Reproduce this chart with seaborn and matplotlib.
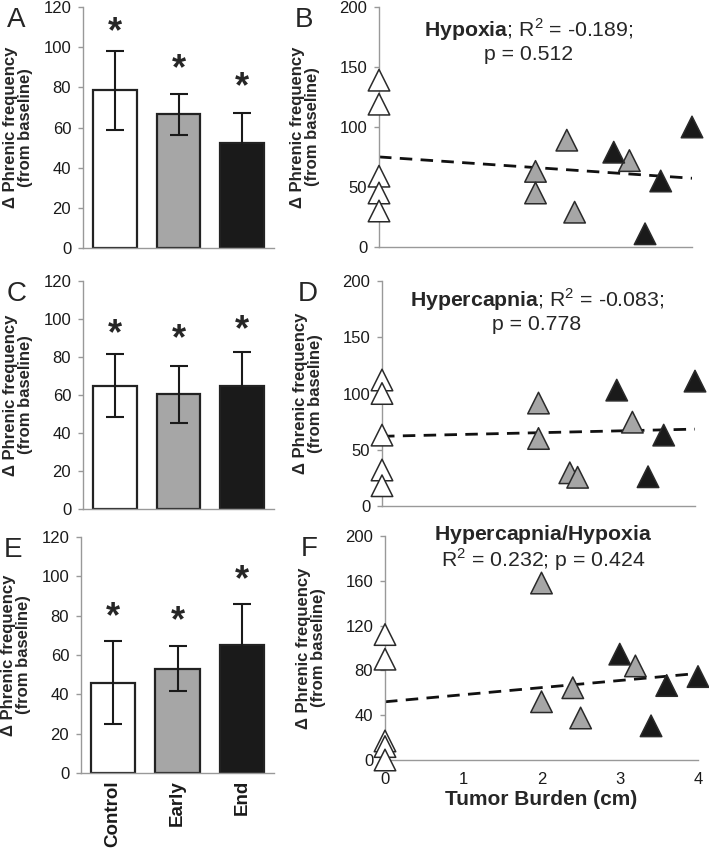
import numpy as np
import pandas as pd
import seaborn as sns
import matplotlib.pyplot as plt

# ---- data ----
groups = ["Control", "Early", "End"]

# bar panels: mean and SEM (delta phrenic frequency)
hypoxia_mean = [78.5, 66.5, 52.5]
hypoxia_sem = [19.5, 10.2, 14.5]
hypercap_mean = [65.0, 60.3, 64.5]
hypercap_sem = [16.5, 14.8, 18.0]
combo_mean = [46.0, 53.0, 65.0]
combo_sem = [21.0, 11.5, 21.0]

# significance asterisk heights
hypoxia_star = [107, 89, 80]
hypercap_star = [92, 89, 94]
combo_star = [79, 77, 98]

# scatter panels: tumor burden (cm)
ctrl_burden = [0, 0, 0, 0, 0]
early_burden = [2.0, 2.0, 2.4, 2.5, 3.2]
end_burden = [3.0, 3.4, 3.6, 4.0]

hypoxia_ctrl = [139, 119, 59, 45, 30]
hypoxia_early = [63, 45, 89, 29, 72]
hypoxia_end = [79, 11, 55, 100]

hypercap_ctrl = [112, 100, 63, 32, 18]
hypercap_early = [91.5, 60, 29.5, 25.5, 74.5]
hypercap_end = [103, 26, 63, 111]

combo_ctrl = [112, 90, 17, 12, 0]
combo_early = [158, 52, 64.5, 37.5, 84]
combo_end = [94.5, 30.5, 66.5, 74.5]

colors = {"Control": "white", "Early": "#a6a6a6", "End": "#1a1a1a"}

sns.set_style("white")
plt.rcParams['font.family'] = ['Liberation Sans', 'DejaVu Sans']
plt.rcParams['mathtext.fontset'] = 'custom'
plt.rcParams['mathtext.rm'] = 'Liberation Sans'
plt.rcParams['mathtext.bf'] = 'Liberation Sans:bold'

W, H = 709, 848
fig = plt.figure(figsize=(W / 100, H / 100), dpi=100)


def axes_px(x0, x1, ytop, ybot):
    return fig.add_axes([x0 / W, 1 - ybot / H, (x1 - x0) / W, (ybot - ytop) / H])


def style_axes(ax):
    for s in ["top", "right"]:
        ax.spines[s].set_visible(False)
    for s in ["left", "bottom"]:
        ax.spines[s].set_color("#999999")
        ax.spines[s].set_linewidth(1.0)
    ax.tick_params(axis="both", which="both", direction="out", color="#999999",
                   length=3.5, width=1, labelsize=12, labelcolor="#1a1a1a", pad=5)
    ax.tick_params(axis="y", left=True)


ylab = "Δ Phrenic frequency\n(from baseline)"


def bar_panel(ax, means, sems, stars, letter, show_x):
    df = pd.DataFrame({"group": groups, "value": means})
    sns.barplot(data=df, x="group", y="value", hue="group", palette=colors,
                edgecolor="#222222", linewidth=1.6, width=0.69, errorbar=None,
                legend=False, ax=ax)
    ax.errorbar(range(3), means, yerr=sems, fmt="none", ecolor="#1a1a1a",
                elinewidth=1.5, capsize=6.5, capthick=1.5)
    for i, s in enumerate(stars):
        ax.text(i, s, "*", ha="center", va="center", fontsize=26, fontweight="bold")
    ax.set_xlim(-0.5, 2.5)
    ax.set_ylim(0, 120)
    ax.set_yticks(range(0, 121, 20))
    style_axes(ax)
    ax.set_xticks([-0.5, 0.5, 1.5, 2.5], minor=True)
    ax.tick_params(axis="x", which="major", length=0)
    ax.set_xlabel("")
    if show_x:
        ax.set_xticks(range(3))
        ax.set_xticklabels(groups, rotation=90, fontsize=13.5, fontweight="bold")
    else:
        ax.set_xticklabels([])
    ax.set_ylabel(ylab, fontsize=12, fontweight="bold", linespacing=1.0)
    ax.yaxis.set_label_coords(-0.26, 0.5)
    ax.text(-0.4, 1.0, letter, transform=ax.transAxes, fontsize=20,
            ha="left", va="top")


def scatter_panel(ax, ctrl, early, end, ymax, ystep, title, tpos, tspace, letter, show_x):
    df = pd.DataFrame({
        "burden": ctrl_burden + early_burden + end_burden,
        "freq": ctrl + early + end,
        "group": ["Control"] * len(ctrl) + ["Early"] * len(early) + ["End"] * len(end),
    })
    sns.regplot(data=df, x="burden", y="freq", scatter=False, ci=None, ax=ax,
                line_kws=dict(color="#111111", lw=2.0, ls=(0, (4.5, 3))))
    sns.scatterplot(data=df, x="burden", y="freq", hue="group", palette=colors,
                    marker="^", s=240, edgecolor="#2a2a2a", linewidth=1.1,
                    legend=False, clip_on=False, zorder=3, ax=ax)
    ax.set_xlim(0, 4)
    ax.set_ylim(0, ymax)
    ax.set_xticks(range(5))
    ax.set_yticks(np.arange(0, ymax + 1, ystep))
    style_axes(ax)
    ax.set_ylabel(ylab, fontsize=12, fontweight="bold", linespacing=1.0)
    ax.yaxis.set_label_coords(-0.19, 0.5)
    if show_x:
        ax.set_xlabel("Tumor Burden (cm)", fontsize=15, fontweight="bold", labelpad=2)
    else:
        ax.set_xticklabels([])
        ax.set_xlabel("")
    ax.text(tpos[0], tpos[1], title, transform=ax.transAxes, ha="center", va="center",
            fontsize=15.3, linespacing=tspace)
    ax.text(-0.27, 1.0, letter, transform=ax.transAxes, fontsize=20,
            ha="left", va="top")


axA = axes_px(83, 274, 7, 248)
axC = axes_px(83, 274, 281, 509)
axE = axes_px(81, 274, 537, 773)
axB = axes_px(379, 692, 7, 247)
axD = axes_px(382, 695, 281, 506)
axF = axes_px(385, 698, 536, 760)

bar_panel(axA, hypoxia_mean, hypoxia_sem, hypoxia_star, "A", False)
bar_panel(axC, hypercap_mean, hypercap_sem, hypercap_star, "C", False)
bar_panel(axE, combo_mean, combo_sem, combo_star, "E", True)

scatter_panel(axB, hypoxia_ctrl, hypoxia_early, hypoxia_end, 200, 50,
              r"$\mathbf{Hypoxia}$; R$^2$ = -0.189;" + "\np = 0.512",
              (0.478, 0.862), 1.15, "B", False)
scatter_panel(axD, hypercap_ctrl, hypercap_early, hypercap_end, 200, 50,
              r"$\mathbf{Hypercapnia}$; R$^2$ = -0.083;" + "\np = 0.778",
              (0.495, 0.871), 1.15, "D", False)
scatter_panel(axF, combo_ctrl, combo_early, combo_end, 200, 40,
              r"$\mathbf{Hypercapnia/Hypoxia}$" + "\n" + r"R$^2$ = 0.232; p = 0.424",
              (0.506, 0.946), 1.0, "F", True)

fig.savefig("out.png", dpi=100)
